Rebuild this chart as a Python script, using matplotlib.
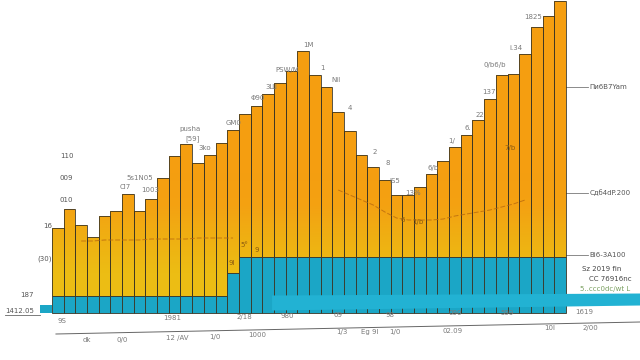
import numpy as np
import matplotlib.pyplot as plt
from matplotlib.path import Path
from matplotlib.colors import LinearSegmentedColormap

nan = np.nan

# bar totals (teal base + orange part)
totals = [85, 104, 88, 76, 97, 102, 119, 102, 114, 135,
          157, 169, 150, 158, 170, 183, 199, 207, 219, 230,
          242, 262, 238, 226, 201, 182, 158, 146, 133, 118,
          118, 126, 139, 152, 166, 178, 193, 214, 238, 239,
          259, 286, 297, 312]
teal = [17, 17, 17, 17, 17, 17, 17, 17, 17, 17,
        17, 17, 17, 17, 17, 40, 56, 56, 56, 56,
        56, 56, 56, 56, 56, 56, 56, 56, 56, 56,
        56, 56, 56, 56, 56, 56, 56, 56, 56, 56,
        56, 56, 56, 56]
trend = [nan, nan, 72, 72, 73, 73, 73, 73, 74, 74,
         74, 74, 75, 75, 75, 75, nan, nan, nan, nan,
         nan, nan, nan, nan, 123, 118, 113, 108, 101, 95,
         93, 93, 93, 94, 97, 99, 101, 103, 106, 109,
         113, nan, nan, nan]
lead_bar = 8   # small teal block left of the first bar

top_labels = ["CI7", "5s1N05", "1003", "pusha", "[59]", "3ko", "GM0", "Φ90", "3Ш",
              "PSW/M", "1M", "1", "Nil", "4", "2", "8", "IS5", "13%", "6/b", "1/",
              "6.", "22", "137", "0/b6/b", "i.34", "1825"]
top_pos = [(6.25, 126), (7.53, 135), (8.39, 123), (11.82, 184), (12.07, 174), (13.1, 165),
           (15.58, 190), (17.64, 215), (18.75, 226), (20.12, 243), (21.92, 268), (23.12, 245),
           (24.32, 233), (25.5, 205), (27.65, 161), (28.77, 150), (29.37, 132), (30.9, 120),
           (32.6, 145), (34.25, 172), (35.6, 185), (36.6, 198), (37.4, 221), (37.9, 248),
           (39.7, 265), (41.2, 296)]
side_labels = ["110", "009", "010", "16", "(30)", "187", "1412.05"]
side_pos = [(1.28, 157), (1.2, 135), (1.2, 113), (-0.34, 87), (-0.6, 54), (-2.14, 18), (-2.74, 2)]
inner_labels = ["5°", "9l", "9", "6", "1/b", "7/b"]
inner_pos = [(16.5, 68), (15.4, 50), (17.55, 63), (30.05, 93), (31.3, 91), (39.2, 165)]
right_labels = ["Пи6В7Yam", "Cдб4dP.200", "Bi6-3A100"]
right_y = [226, 120, 58]
tick1 = ["9S", "1981", "2/18", "980", "09", "98", "090", "599", "1619"]
tick1_pos = [(0.86, -8), (10.27, -5), (16.5, -4), (20.1, -3), (24.5, -2), (28.9, -2),
             (34.5, 0), (39.0, 0), (45.6, 1)]
tick2 = ["dk", "0/0", "12 /AV", "1/0", "1000", "1/3", "Eg 9l", "1/0", "02.09", "10l", "2/00"]
tick2_pos = [(3.0, -27), (6.0, -27), (10.7, -25), (13.95, -24), (17.55, -22), (24.8, -19),
             (27.2, -19), (29.4, -19), (34.3, -18), (42.6, -15), (46.1, -15)]

n = len(totals)
x = np.arange(n)
tot = np.array(totals, float)
tl = np.array(teal, float)

fig = plt.figure(figsize=(6.4, 3.6), dpi=100)
ax = fig.add_axes([0, 0, 1, 1])
ax.set_xlim(-4.45, 50.34)
ax.set_ylim(-47, 313)
ax.axis("off")

TEAL = "#1ba6c6"
EDGE = "#3b3524"

# orange/yellow gradient part, clipped to the bar shapes
cmap = LinearSegmentedColormap.from_list("oy", ["#ecbd14", "#efb012", "#f4a212", "#f59e10"])
grad = np.linspace(0, 1, 256).reshape(-1, 1)
img = ax.imshow(grad, cmap=cmap, extent=(-4.45, 50.34, 40, 140), origin="lower",
                aspect="auto", zorder=1)
img2 = ax.imshow(np.ones((2, 2)), cmap=cmap, vmin=0, vmax=1, extent=(-4.45, 50.34, 140, 313),
                 aspect="auto", zorder=1)
img3 = ax.imshow(np.zeros((2, 2)), cmap=cmap, vmin=0, vmax=1, extent=(-4.45, 50.34, -47, 40),
                 aspect="auto", zorder=1)
rects = [Path([(i, tl[i]), (i + 1, tl[i]), (i + 1, tot[i]), (i, tot[i]), (i, tl[i])],
              [Path.MOVETO, Path.LINETO, Path.LINETO, Path.LINETO, Path.CLOSEPOLY]) for i in range(n)]
clip = Path.make_compound_path(*rects)
for im in (img, img2, img3):
    im.set_clip_path(clip, transform=ax.transData)

ax.bar(x, tot - tl, bottom=tl, width=1, align="edge", fill=False, edgecolor=EDGE, lw=0.6, zorder=3)
ax.bar(x, tl, width=1, align="edge", color=TEAL, edgecolor=EDGE, lw=0.6, zorder=3)
ax.bar([-1], [lead_bar], width=1, align="edge", color=TEAL, edgecolor="none", zorder=3)

# light teal band along the bottom
ax.fill_between([18.8, 50.34], [3, 8], [18, 20], color="#22b2d3", lw=0, zorder=4)

# trend line over the bars
ax.plot(x + 0.5, trend, color="#b8690f", lw=0.7, ls=(0, (5, 2)), alpha=0.8, zorder=4)

# axis lines
ax.plot([-4.0, -1.0], [-2, -2], color="#666666", lw=0.6)
ax.plot([0.34, 50.34], [-21, -9], color="#666666", lw=0.7)

fs = 5
gray = "#7a7a7a"
for t, (px, py) in zip(top_labels, top_pos):
    ax.text(px, py, t, fontsize=fs, color=gray, ha="center", va="center", zorder=5)
for t, (px, py) in zip(side_labels, side_pos):
    ax.text(px, py, t, fontsize=fs, color="#555555", ha="center", va="center", zorder=5)
for t, (px, py) in zip(inner_labels, inner_pos):
    ax.text(px, py, t, fontsize=fs, color="#8a5a10", ha="center", va="center", zorder=5)
for t, yv in zip(right_labels, right_y):
    ax.plot([44, 45.9], [yv, yv], color="#777777", lw=0.6)
    ax.text(46.0, yv, t, fontsize=fs, color="#555555", ha="left", va="center")
ax.text(45.4, 44, "Sz 2019 fin", fontsize=fs, color="#444444", ha="left", va="center")
ax.text(46.0, 34, "CC 76916nc", fontsize=fs, color="#444444", ha="left", va="center")
ax.text(45.2, 24, "5..ccc0dc/wt L", fontsize=fs, color="#7aa060", ha="left", va="center")
for t, (px, py) in zip(tick1, tick1_pos):
    ax.text(px, py, t, fontsize=fs, color=gray, ha="center", va="center")
for t, (px, py) in zip(tick2, tick2_pos):
    ax.text(px, py, t, fontsize=fs, color=gray, ha="center", va="center")

fig.savefig("out.png", dpi=100)
